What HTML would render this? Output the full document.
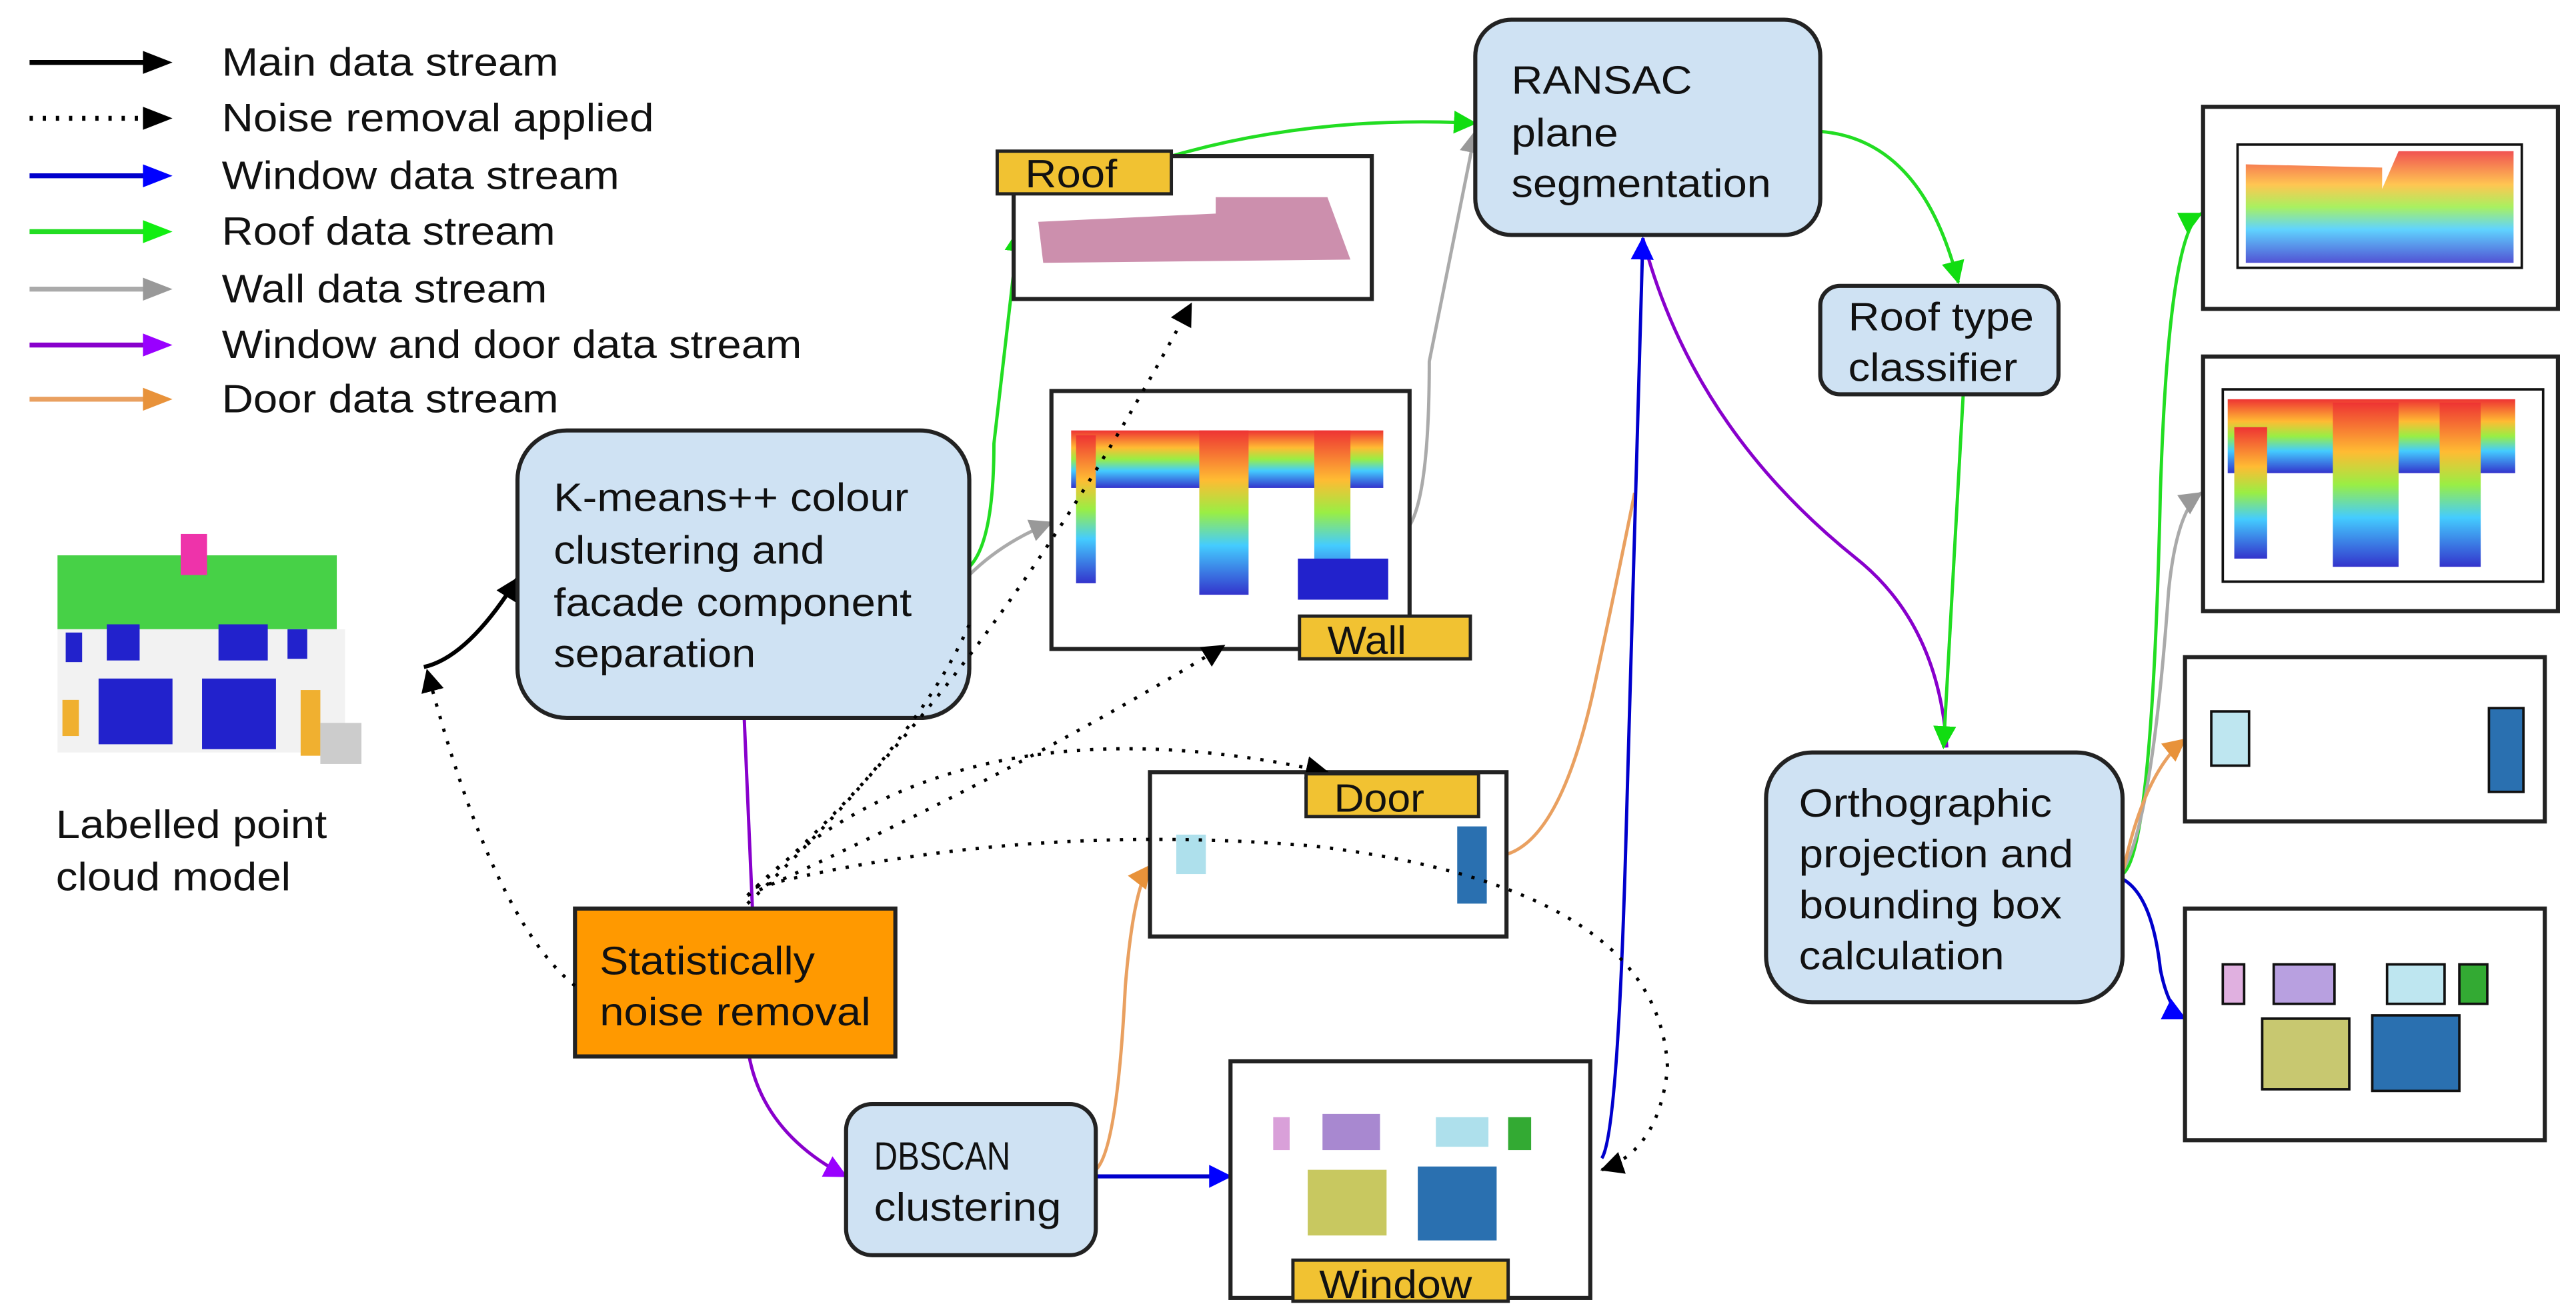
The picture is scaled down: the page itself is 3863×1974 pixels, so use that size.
<!DOCTYPE html>
<html><head><meta charset="utf-8"><style>
html,body{margin:0;padding:0;background:#fff;}
svg{display:block;}
text{font-family:"Liberation Sans",Arial,sans-serif;fill:#111;}
</style></head><body>
<svg width="3863" height="1974" viewBox="0 0 1568 801" preserveAspectRatio="none" xmlns="http://www.w3.org/2000/svg">
<defs>
<linearGradient id="rb" x1="0" y1="0" x2="0" y2="1">
<stop offset="0" stop-color="#e33"/><stop offset="0.3" stop-color="#fb3"/><stop offset="0.5" stop-color="#9e4"/><stop offset="0.7" stop-color="#4cf"/><stop offset="1" stop-color="#33c"/></linearGradient>
<marker id="mbl" markerWidth="14" markerHeight="14" refX="13" refY="7" orient="auto" markerUnits="userSpaceOnUse"><path d="M0,0L14,7L0,14z" fill="#00f"/></marker>
<marker id="mg" markerWidth="14" markerHeight="14" refX="13" refY="7" orient="auto" markerUnits="userSpaceOnUse"><path d="M0,0L14,7L0,14z" fill="#1d1"/></marker>
<marker id="mgr" markerWidth="14" markerHeight="14" refX="13" refY="7" orient="auto" markerUnits="userSpaceOnUse"><path d="M0,0L14,7L0,14z" fill="#999"/></marker>
<marker id="mp" markerWidth="14" markerHeight="14" refX="13" refY="7" orient="auto" markerUnits="userSpaceOnUse"><path d="M0,0L14,7L0,14z" fill="#90f"/></marker>
<marker id="mo" markerWidth="14" markerHeight="14" refX="13" refY="7" orient="auto" markerUnits="userSpaceOnUse"><path d="M0,0L14,7L0,14z" fill="#e8923a"/></marker>
<marker id="mb" markerWidth="14" markerHeight="14" refX="13" refY="7" orient="auto" markerUnits="userSpaceOnUse"><path d="M0,0L14,7L0,14z" fill="#000"/></marker>
</defs>

<!-- legend -->
<g stroke-width="3">
<line x1="18" y1="38" x2="90" y2="38" stroke="#000"/><path d="M87,31L105,38L87,45z" fill="#000"/>
<line x1="18" y1="72" x2="88" y2="72" stroke="#000" stroke-dasharray="2,6"/><path d="M87,65L105,72L87,79z" fill="#000"/>
<line x1="18" y1="107" x2="90" y2="107" stroke="#00c"/><path d="M87,100L105,107L87,114z" fill="#00f"/>
<line x1="18" y1="141" x2="90" y2="141" stroke="#2d2"/><path d="M87,134L105,141L87,148z" fill="#1e1"/>
<line x1="18" y1="176" x2="90" y2="176" stroke="#aaa"/><path d="M87,169L105,176L87,183z" fill="#999"/>
<line x1="18" y1="210" x2="90" y2="210" stroke="#80c"/><path d="M87,203L105,210L87,217z" fill="#90f"/>
<line x1="18" y1="243" x2="90" y2="243" stroke="#e9a060"/><path d="M87,236L105,243L87,250z" fill="#e8923a"/>
</g>
<g font-size="24" lengthAdjust="spacingAndGlyphs">
<text x="135" y="46" textLength="205" lengthAdjust="spacingAndGlyphs">Main data stream</text>
<text x="135" y="80" textLength="263" lengthAdjust="spacingAndGlyphs">Noise removal applied</text>
<text x="135" y="115" textLength="242" lengthAdjust="spacingAndGlyphs">Window data stream</text>
<text x="135" y="149" textLength="203" lengthAdjust="spacingAndGlyphs">Roof data stream</text>
<text x="135" y="184" textLength="198" lengthAdjust="spacingAndGlyphs">Wall data stream</text>
<text x="135" y="218" textLength="353" lengthAdjust="spacingAndGlyphs">Window and door data stream</text>
<text x="135" y="251" textLength="205" lengthAdjust="spacingAndGlyphs">Door data stream</text>
</g>

<!-- house -->
<g>
<rect x="35" y="338" width="170" height="45" fill="#3c3" opacity="0.9"/>
<rect x="110" y="325" width="16" height="25" fill="#e3a"/>
<rect x="35" y="383" width="175" height="75" fill="#f2f2f2"/>
<rect x="40" y="385" width="10" height="18" fill="#22c"/><rect x="65" y="380" width="20" height="22" fill="#22c"/>
<rect x="133" y="380" width="30" height="22" fill="#22c"/><rect x="175" y="383" width="12" height="18" fill="#22c"/>
<rect x="60" y="413" width="45" height="40" fill="#22c"/><rect x="123" y="413" width="45" height="43" fill="#22c"/>
<rect x="38" y="426" width="10" height="22" fill="#f0b030"/><rect x="183" y="420" width="12" height="40" fill="#f0b030"/>
<rect x="195" y="440" width="25" height="25" fill="#ccc"/>
</g>
<text x="34" y="510" font-size="24" textLength="165" lengthAdjust="spacingAndGlyphs">Labelled point</text>
<text x="34" y="542" font-size="24" textLength="143" lengthAdjust="spacingAndGlyphs">cloud model</text>

<!-- connectors (solid) -->
<g fill="none" stroke-width="2">
<path d="M258,406 Q285,400 315,352" stroke="#000" stroke-width="2.5" marker-end="url(#mb)"/>
<path d="M453,437 L458,553" stroke="#80c"/>
<path d="M456,643 Q465,690 515,716" stroke="#80c" marker-end="url(#mp)"/>
<path d="M1000,145 Q1030,260 1130,340 Q1180,380 1185,455" stroke="#80c"/>
<path d="M590,345 Q605,330 605,270 L620,140" stroke="#2d2" marker-end="url(#mg)"/>
<path d="M713,95 Q800,70 898,75" stroke="#2d2" marker-end="url(#mg)"/>
<path d="M1108,80 Q1170,85 1192,172" stroke="#2d2" marker-end="url(#mg)"/>
<path d="M1195,240 L1183,455" stroke="#2d2" marker-end="url(#mg)"/>
<path d="M1292,532 Q1310,520 1315,300 Q1320,140 1340,130" stroke="#2d2" marker-end="url(#mg)"/>
<path d="M590,350 Q610,330 640,318" stroke="#aaa" marker-end="url(#mgr)"/>
<path d="M858,320 Q870,300 870,220 L898,80" stroke="#aaa" marker-end="url(#mgr)"/>
<path d="M1292,530 Q1310,500 1320,360 Q1325,310 1340,300" stroke="#aaa" marker-end="url(#mgr)"/>
<path d="M667,712 Q680,700 685,600 Q690,540 700,527" stroke="#e9a060" marker-end="url(#mo)"/>
<path d="M917,520 Q950,510 970,420 Q985,350 995,300" stroke="#e9a060"/>
<path d="M1292,532 Q1305,470 1330,450" stroke="#e9a060" marker-end="url(#mo)"/>
<path d="M667,716 L749,716" stroke="#00c" stroke-width="2.5" marker-end="url(#mbl)"/>
<path d="M975,705 Q985,690 990,500 L1000,145" stroke="#00c" marker-end="url(#mbl)"/>
<path d="M1292,535 Q1310,545 1315,590 Q1320,615 1330,620" stroke="#00c" marker-end="url(#mbl)"/>
</g>

<!-- process boxes -->
<g stroke="#222" stroke-width="2.5" fill="#cfe2f3">
<rect x="315" y="262" width="275" height="175" rx="30"/>
<rect x="898" y="12" width="210" height="131" rx="22"/>
<rect x="1108" y="174" width="145" height="66" rx="12"/>
<rect x="1075" y="458" width="217" height="152" rx="28"/>
<rect x="515" y="672" width="152" height="92" rx="16"/>
<rect x="350" y="553" width="195" height="90" fill="#ff9900"/>
</g>
<g font-size="24">
<text x="337" y="311" textLength="216" lengthAdjust="spacingAndGlyphs">K-means++ colour</text>
<text x="337" y="343" textLength="165" lengthAdjust="spacingAndGlyphs">clustering and</text>
<text x="337" y="375" textLength="218" lengthAdjust="spacingAndGlyphs">facade component</text>
<text x="337" y="406" textLength="123" lengthAdjust="spacingAndGlyphs">separation</text>
<text x="920" y="57" textLength="110" lengthAdjust="spacingAndGlyphs">RANSAC</text>
<text x="920" y="89" textLength="65" lengthAdjust="spacingAndGlyphs">plane</text>
<text x="920" y="120" textLength="158" lengthAdjust="spacingAndGlyphs">segmentation</text>
<text x="1125" y="201" textLength="113" lengthAdjust="spacingAndGlyphs">Roof type</text>
<text x="1125" y="232" textLength="103" lengthAdjust="spacingAndGlyphs">classifier</text>
<text x="1095" y="497" textLength="154" lengthAdjust="spacingAndGlyphs">Orthographic</text>
<text x="1095" y="528" textLength="167" lengthAdjust="spacingAndGlyphs">projection and</text>
<text x="1095" y="559" textLength="160" lengthAdjust="spacingAndGlyphs">bounding box</text>
<text x="1095" y="590" textLength="125" lengthAdjust="spacingAndGlyphs">calculation</text>
<text x="532" y="712" textLength="83" lengthAdjust="spacingAndGlyphs">DBSCAN</text>
<text x="532" y="743" textLength="114" lengthAdjust="spacingAndGlyphs">clustering</text>
<text x="365" y="593" textLength="131" lengthAdjust="spacingAndGlyphs">Statistically</text>
<text x="365" y="624" textLength="165" lengthAdjust="spacingAndGlyphs">noise removal</text>
</g>

<!-- image boxes -->
<g stroke="#222" stroke-width="2.5" fill="#fff">
<rect x="617" y="95" width="218" height="87"/>
<rect x="640" y="238" width="218" height="157"/>
<rect x="700" y="470" width="217" height="100"/>
<rect x="749" y="646" width="219" height="144"/>
<rect x="1341" y="65" width="216" height="123"/>
<rect x="1341" y="217" width="216" height="155"/>
<rect x="1330" y="400" width="219" height="100"/>
<rect x="1330" y="553" width="219" height="141"/>
</g>
<!-- roof cloud -->
<path d="M632,135 L740,130 L740,120 L808,120 L822,158 L635,160z" fill="#a47" opacity="0.6"/>
<!-- wall cloud -->
<g fill="url(#rb)">
<rect x="652" y="262" width="190" height="35"/>
<rect x="655" y="265" width="12" height="90"/><rect x="730" y="262" width="30" height="100"/><rect x="800" y="262" width="22" height="100"/>
<rect x="790" y="340" width="55" height="25" fill="#22c"/>
</g>
<!-- door cloud -->
<rect x="716" y="508" width="18" height="24" fill="#aee0ec"/>
<rect x="887" y="503" width="18" height="47" fill="#2a70b0"/>
<!-- window cloud -->
<rect x="775" y="680" width="10" height="20" fill="#d9a0d9"/><rect x="805" y="678" width="35" height="22" fill="#a888d0"/>
<rect x="874" y="680" width="32" height="18" fill="#aee0ec"/><rect x="918" y="680" width="14" height="20" fill="#3a3"/>
<rect x="796" y="712" width="48" height="40" fill="#c8c860"/><rect x="863" y="710" width="48" height="45" fill="#2a70b0"/>

<!-- right panels content -->
<rect x="1362" y="88" width="173" height="75" fill="none" stroke="#111" stroke-width="1.5"/>
<path d="M1367,100 L1450,102 L1450,115 L1460,92 L1530,92 L1530,160 L1367,160z" fill="url(#rb)" opacity="0.85"/>
<rect x="1353" y="237" width="195" height="117" fill="none" stroke="#111" stroke-width="1.5"/>
<g fill="url(#rb)">
<rect x="1356" y="243" width="175" height="45"/><rect x="1360" y="260" width="20" height="80"/><rect x="1420" y="245" width="40" height="100"/><rect x="1485" y="245" width="25" height="100"/>
</g>
<rect x="1346" y="433" width="23" height="33" fill="#bee6f0" stroke="#111" stroke-width="1.5"/>
<rect x="1515" y="431" width="21" height="51" fill="#2a70b0" stroke="#111" stroke-width="1.5"/>
<g stroke="#111" stroke-width="1.5">
<rect x="1353" y="587" width="13" height="24" fill="#e0b0e0"/>
<rect x="1384" y="587" width="37" height="24" fill="#b8a0e0"/>
<rect x="1453" y="587" width="35" height="24" fill="#bee6f0"/>
<rect x="1497" y="587" width="17" height="24" fill="#3a3"/>
<rect x="1377" y="620" width="53" height="43" fill="#c8c870"/>
<rect x="1444" y="618" width="53" height="46" fill="#2a70b0"/>
</g>

<!-- dotted connectors drawn on top -->
<g fill="none" stroke-width="2" stroke="#000" stroke-dasharray="2,6">
<path d="M350,600 Q300,560 260,408" marker-end="url(#mb)"/>
<path d="M455,550 Q560,450 590,380"/>
<path d="M455,545 Q600,420 725,185" marker-end="url(#mb)"/>
<path d="M455,545 Q620,470 745,393" marker-end="url(#mb)"/>
<path d="M455,545 Q580,420 808,470" marker-end="url(#mb)"/>
<path d="M460,540 Q620,500 800,515 Q1010,540 1015,650 Q1010,700 975,712" marker-end="url(#mb)"/>
</g>

<!-- labels -->
<g stroke="#222" stroke-width="2" fill="#f1c232">
<rect x="607" y="92" width="106" height="26"/>
<rect x="791" y="375" width="104" height="26"/>
<rect x="795" y="471" width="105" height="26"/>
<rect x="787" y="767" width="131" height="25"/>
</g>
<g font-size="24">
<text x="624" y="114" textLength="56" lengthAdjust="spacingAndGlyphs">Roof</text>
<text x="808" y="398" textLength="48" lengthAdjust="spacingAndGlyphs">Wall</text>
<text x="812" y="494" textLength="55" lengthAdjust="spacingAndGlyphs">Door</text>
<text x="803" y="790" textLength="93" lengthAdjust="spacingAndGlyphs">Window</text>
</g>
</svg>
</body></html>
